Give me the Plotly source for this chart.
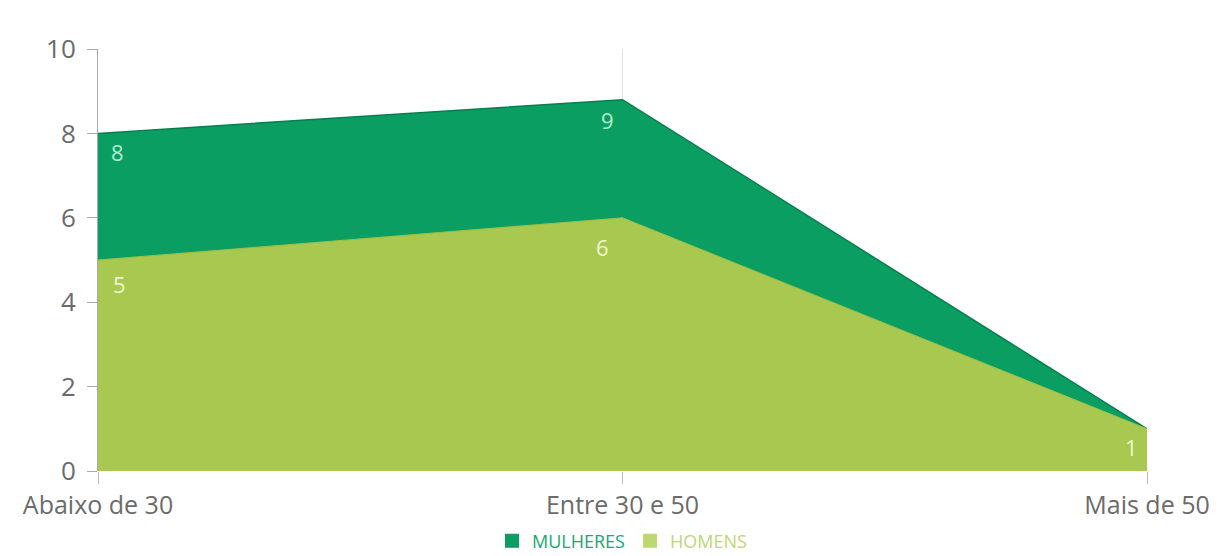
import plotly.graph_objects as go

categories = ["Abaixo de 30", "Entre 30 e 50", "Mais de 50"]
mulheres = [8, 8.8, 1]
homens = [5, 6, 1]
mulheres_labels = ["8", "9", ""]
homens_labels = ["5", "6", "1"]

C_M = "#0a9e62"
C_H = "#a8c84f"

fig = go.Figure()
fig.add_trace(go.Scatter(
    x=categories, y=mulheres, mode="lines", fill="tozeroy",
    fillcolor=C_M, line=dict(color="#067f4e", width=1.5),
    showlegend=False, hoverinfo="skip"))
fig.add_trace(go.Scatter(
    x=categories, y=homens, mode="lines", fill="tozeroy",
    fillcolor=C_H, line=dict(color="#9dc046", width=1),
    showlegend=False, hoverinfo="skip"))
fig.add_trace(go.Scatter(x=[None], y=[None], mode="markers",
    marker=dict(symbol="square", size=14, color=C_M),
    name="<span style='color:#1aa870'>MULHERES</span>"))
fig.add_trace(go.Scatter(x=[None], y=[None], mode="markers",
    marker=dict(symbol="square", size=14, color="#bcd871"),
    name="<span style='color:#bcd871'>HOMENS</span>"))

# data labels, offset inside the areas
m_shift = [(19, -19), (-15, -20), (0, 0)]
h_shift = [(21, -24), (-20, -29), (-16, -18)]
for cat, val, lab, (dx, dy) in zip(categories, mulheres, mulheres_labels, m_shift):
    if lab:
        fig.add_annotation(x=cat, y=val, text=lab, showarrow=False, xshift=dx, yshift=dy,
                           font=dict(family="Open Sans", size=22, color="#b5f0cf"))
for cat, val, lab, (dx, dy) in zip(categories, homens, homens_labels, h_shift):
    fig.add_annotation(x=cat, y=val, text=lab, showarrow=False, xshift=dx, yshift=dy,
                       font=dict(family="Open Sans", size=22, color="#eef8d0"))

fig.update_layout(
    width=1226, height=556,
    margin=dict(l=98, r=79, t=49, b=85, autoexpand=False),
    plot_bgcolor="white", paper_bgcolor="white",
    font=dict(family="Open Sans", color="#6b6b6b"),
    legend=dict(orientation="h", x=0.5, xanchor="center", y=-0.122, yanchor="top",
                font=dict(size=18), itemwidth=30, tracegroupgap=0,
                bgcolor="rgba(0,0,0,0)"),
    xaxis=dict(type="category", range=[0, 2], showgrid=True, gridcolor="#e2e2e2",
               gridwidth=1, ticks="outside", ticklen=12, tickcolor="#bbbbbb",
               tickfont=dict(size=25, color="#6b6b6b"), showline=False, zeroline=False),
    yaxis=dict(range=[0, 10], dtick=2, showgrid=False, showline=True, linecolor="#aaaaaa",
               ticks="outside", ticklen=10, tickcolor="#aaaaaa", ticklabelstandoff=6,
               tickfont=dict(size=26, color="#6b6b6b"), zeroline=False),
)

fig.write_html("out.html")
